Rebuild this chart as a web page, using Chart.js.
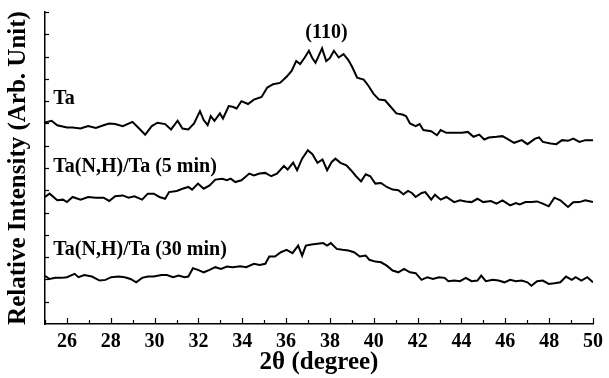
<!DOCTYPE html>
<html>
<head>
<meta charset="utf-8">
<script src="https://cdn.jsdelivr.net/npm/chart.js@4.4.1/dist/chart.umd.min.js"></script>
<style>
  html, body { margin: 0; padding: 0; background: #fff; }
  #wrap { width: 609px; height: 378px; }
</style>
</head>
<body>
<div id="wrap"><canvas id="xrd"></canvas></div>
<script>
// 2theta (degree) and relative intensity (arb. units)
const taX = [25.00, 25.30, 25.56, 26.00, 26.26, 26.62, 26.97, 27.32, 27.67, 27.93, 28.20, 28.55, 28.99, 29.25, 29.57, 29.87, 30.13, 30.48, 30.75, 31.05, 31.27, 31.54, 31.80, 32.07, 32.24, 32.42, 32.56, 32.73, 32.98, 33.12, 33.38, 33.56, 33.74, 33.96, 34.26, 34.53, 34.88, 35.14, 35.41, 35.72, 36.02, 36.25, 36.46, 36.64, 36.85, 37.04, 37.20, 37.34, 37.64, 37.83, 37.99, 38.18, 38.40, 38.62, 38.84, 39.01, 39.24, 39.54, 39.77, 39.98, 40.24, 40.51, 40.77, 41.03, 41.30, 41.47, 41.65, 41.91, 42.09, 42.26, 42.62, 42.88, 43.05, 43.31, 43.67, 44.02, 44.29, 44.55, 44.81, 45.04, 45.25, 45.60, 45.87, 46.13, 46.40, 46.75, 47.01, 47.36, 47.54, 47.71, 48.07, 48.33, 48.59, 48.86, 49.10, 49.38, 49.65, 50.00];
const taY = [9.04, 9.12, 8.92, 8.82, 8.82, 8.77, 8.88, 8.80, 8.92, 9.00, 8.97, 8.88, 9.07, 8.82, 8.49, 8.88, 9.03, 8.97, 8.73, 9.12, 8.77, 8.73, 9.00, 9.55, 9.15, 8.92, 9.33, 9.12, 9.45, 9.22, 9.78, 9.75, 9.67, 10.00, 9.87, 10.07, 10.19, 10.61, 10.76, 10.82, 11.09, 11.36, 11.80, 11.66, 11.96, 12.26, 11.92, 11.72, 12.37, 11.80, 11.92, 12.26, 11.96, 12.11, 11.84, 11.54, 11.05, 10.97, 10.67, 10.34, 10.07, 10.04, 9.75, 9.45, 9.40, 9.33, 9.00, 8.88, 8.97, 8.70, 8.65, 8.47, 8.70, 8.58, 8.58, 8.58, 8.62, 8.40, 8.50, 8.28, 8.37, 8.40, 8.43, 8.28, 8.13, 8.25, 8.07, 8.32, 8.37, 8.17, 8.10, 8.07, 8.25, 8.22, 8.32, 8.17, 8.25, 8.25];

const min5X = [25.00, 25.21, 25.56, 25.82, 26.00, 26.26, 26.62, 26.97, 27.32, 27.67, 27.93, 28.20, 28.55, 28.81, 29.08, 29.43, 29.69, 29.96, 30.22, 30.48, 30.66, 31.01, 31.27, 31.54, 31.71, 31.98, 32.24, 32.51, 32.77, 33.09, 33.30, 33.47, 33.68, 33.96, 34.32, 34.53, 34.79, 35.05, 35.32, 35.58, 35.90, 36.07, 36.32, 36.50, 36.73, 36.99, 37.20, 37.43, 37.66, 37.87, 38.08, 38.25, 38.48, 38.75, 38.96, 39.19, 39.42, 39.63, 39.84, 40.07, 40.33, 40.59, 40.86, 41.12, 41.35, 41.56, 41.74, 41.91, 42.18, 42.35, 42.62, 42.79, 43.05, 43.31, 43.67, 43.93, 44.20, 44.46, 44.73, 44.99, 45.34, 45.60, 45.87, 46.22, 46.48, 46.66, 46.92, 47.19, 47.45, 47.71, 47.98, 48.24, 48.51, 48.86, 49.10, 49.38, 49.65, 50.00];
const min5Y = [5.70, 5.85, 5.55, 5.58, 5.47, 5.70, 5.58, 5.70, 5.67, 5.67, 5.52, 5.73, 5.77, 5.67, 5.73, 5.58, 5.85, 5.85, 5.70, 5.62, 5.92, 5.97, 6.07, 6.15, 6.03, 6.30, 6.07, 6.22, 6.48, 6.52, 6.45, 6.52, 6.37, 6.45, 6.75, 6.67, 6.75, 6.78, 6.63, 6.75, 7.09, 6.93, 7.24, 6.90, 7.42, 7.80, 7.62, 7.23, 7.38, 6.90, 7.27, 7.42, 7.23, 7.12, 6.90, 6.63, 6.40, 6.72, 6.63, 6.30, 6.33, 6.15, 6.03, 6.00, 5.82, 5.97, 5.88, 5.70, 5.88, 5.92, 5.58, 5.80, 5.58, 5.70, 5.47, 5.55, 5.50, 5.47, 5.62, 5.47, 5.52, 5.40, 5.55, 5.32, 5.43, 5.37, 5.47, 5.47, 5.50, 5.40, 5.28, 5.67, 5.55, 5.25, 5.46, 5.47, 5.55, 5.47];

const min30X = [25.00, 25.21, 25.47, 25.74, 26.00, 26.35, 26.53, 26.79, 27.14, 27.49, 27.76, 28.02, 28.37, 28.64, 28.90, 29.16, 29.43, 29.69, 29.96, 30.31, 30.57, 30.84, 31.10, 31.36, 31.54, 31.75, 31.98, 32.24, 32.51, 32.77, 33.03, 33.30, 33.56, 33.91, 34.18, 34.53, 34.79, 35.05, 35.23, 35.49, 35.76, 36.02, 36.29, 36.55, 36.73, 36.90, 37.16, 37.43, 37.69, 37.87, 38.04, 38.31, 38.57, 38.84, 39.10, 39.36, 39.63, 39.80, 40.07, 40.33, 40.59, 40.86, 41.12, 41.38, 41.65, 41.91, 42.18, 42.44, 42.70, 42.97, 43.23, 43.40, 43.67, 43.93, 44.20, 44.46, 44.73, 44.90, 45.11, 45.43, 45.69, 45.96, 46.22, 46.48, 46.75, 47.01, 47.19, 47.45, 47.71, 47.98, 48.24, 48.51, 48.77, 49.03, 49.21, 49.47, 49.74, 50.00];
const min30Y = [2.16, 2.02, 2.07, 2.07, 2.10, 2.25, 2.10, 2.20, 2.13, 1.95, 1.98, 2.10, 2.13, 2.10, 2.02, 1.87, 2.07, 2.13, 2.13, 2.20, 2.20, 2.10, 2.17, 2.10, 2.13, 2.50, 2.43, 2.32, 2.43, 2.55, 2.47, 2.58, 2.55, 2.59, 2.55, 2.70, 2.65, 2.70, 3.03, 3.03, 3.22, 3.33, 3.18, 3.52, 3.07, 3.52, 3.57, 3.60, 3.63, 3.52, 3.63, 3.37, 3.33, 3.30, 3.22, 3.03, 3.07, 2.88, 2.80, 2.77, 2.62, 2.40, 2.32, 2.47, 2.32, 2.28, 1.98, 2.10, 2.02, 2.10, 2.07, 1.92, 1.95, 1.92, 2.07, 1.92, 1.95, 2.17, 1.92, 1.98, 1.95, 1.87, 1.98, 1.92, 1.95, 1.87, 1.72, 1.92, 1.95, 1.80, 1.83, 1.87, 2.13, 1.98, 2.10, 1.95, 2.10, 1.87];

const seriesNames = ['Ta', 'Ta(N,H)/Ta (5 min)', 'Ta(N,H)/Ta (30 min)'];
// label anchors in data units [2theta, intensity]
const labelAt = [[25.38, 10.09], [25.38, 7.04], [25.38, 3.32]];
const peakLabel = '(110)';
const peakAt = [37.84, 13.05];

const FONT = '"Liberation Serif", "Times New Roman", serif';

const toPoints = (xs, ys) => xs.map((x, i) => ({ x: x, y: ys[i] }));

const line = (name, pts) => ({
  label: name,
  data: pts,
  borderColor: '#000',
  borderWidth: 2,
  pointRadius: 0,
  tension: 0,
  fill: false,
});

// inward ticks + text labels, placed through the scales
const decorations = {
  id: 'decorations',
  afterDraw(chart) {
    const { ctx, scales: { x, y } } = chart;
    ctx.save();
    ctx.strokeStyle = '#000';
    ctx.lineWidth = 1.2;
    const yb = y.getPixelForValue(0);
    for (let v = 25; v <= 50; v++) {
      const px = Math.round(x.getPixelForValue(v)) + 0.5;
      const len = v % 2 === 0 ? 6 : 4;
      ctx.beginPath();
      ctx.moveTo(px, yb);
      ctx.lineTo(px, yb - len);
      ctx.stroke();
    }
    const xl = x.getPixelForValue(25);
    for (let v = 1; v <= 14; v++) {
      const py = Math.round(y.getPixelForValue(v)) + 0.5;
      ctx.beginPath();
      ctx.moveTo(xl, py);
      ctx.lineTo(xl + 4, py);
      ctx.stroke();
    }

    ctx.fillStyle = '#000';
    ctx.font = 'bold 20px ' + FONT;
    ctx.textBaseline = 'middle';
    ctx.textAlign = 'left';
    seriesNames.forEach((n, i) => {
      ctx.fillText(n, x.getPixelForValue(labelAt[i][0]), y.getPixelForValue(labelAt[i][1]));
    });
    ctx.textAlign = 'center';
    ctx.fillText(peakLabel, x.getPixelForValue(peakAt[0]), y.getPixelForValue(peakAt[1]));
    ctx.restore();
  }
};

new Chart(document.getElementById('xrd'), {
  type: 'line',
  data: {
    datasets: [
      line(seriesNames[0], toPoints(taX, taY)),
      line(seriesNames[1], toPoints(min5X, min5Y)),
      line(seriesNames[2], toPoints(min30X, min30Y)),
    ],
  },
  options: {
    responsive: true,
    maintainAspectRatio: false,
    animation: false,
    layout: { padding: { left: 0, right: 11, top: 12, bottom: 0 } },
    plugins: {
      legend: { display: false },
      tooltip: { enabled: false },
    },
    scales: {
      x: {
        type: 'linear',
        min: 25,
        max: 50,
        grid: { display: false, drawTicks: false },
        border: { display: true, color: '#000', width: 1.5 },
        ticks: {
          stepSize: 1,
          autoSkip: false,
          maxRotation: 0,
          padding: 6,
          color: '#000',
          font: { family: FONT, size: 20, weight: 'bold' },
          callback: (v) => (v % 2 === 0 ? String(v) : ''),
        },
        title: {
          display: true,
          text: '2\u03b8 (degree)',
          color: '#000',
          font: { family: FONT, size: 25, weight: 'bold' },
          padding: { top: 0, bottom: 0 },
        },
        afterFit: (s) => { s.height = 54; },
      },
      y: {
        min: 0,
        max: 14,
        grid: { display: false, drawTicks: false },
        border: { display: true, color: '#000', width: 1.5 },
        ticks: { display: false, stepSize: 1 },
        title: {
          display: true,
          text: 'Relative Intensity (Arb. Unit)',
          color: '#000',
          font: { family: FONT, size: 25, weight: 'bold' },
          padding: { top: 4, bottom: 0 },
        },
        afterFit: (s) => { s.width = 45; },
      },
    },
  },
  plugins: [decorations],
});
</script>
</body>
</html>
